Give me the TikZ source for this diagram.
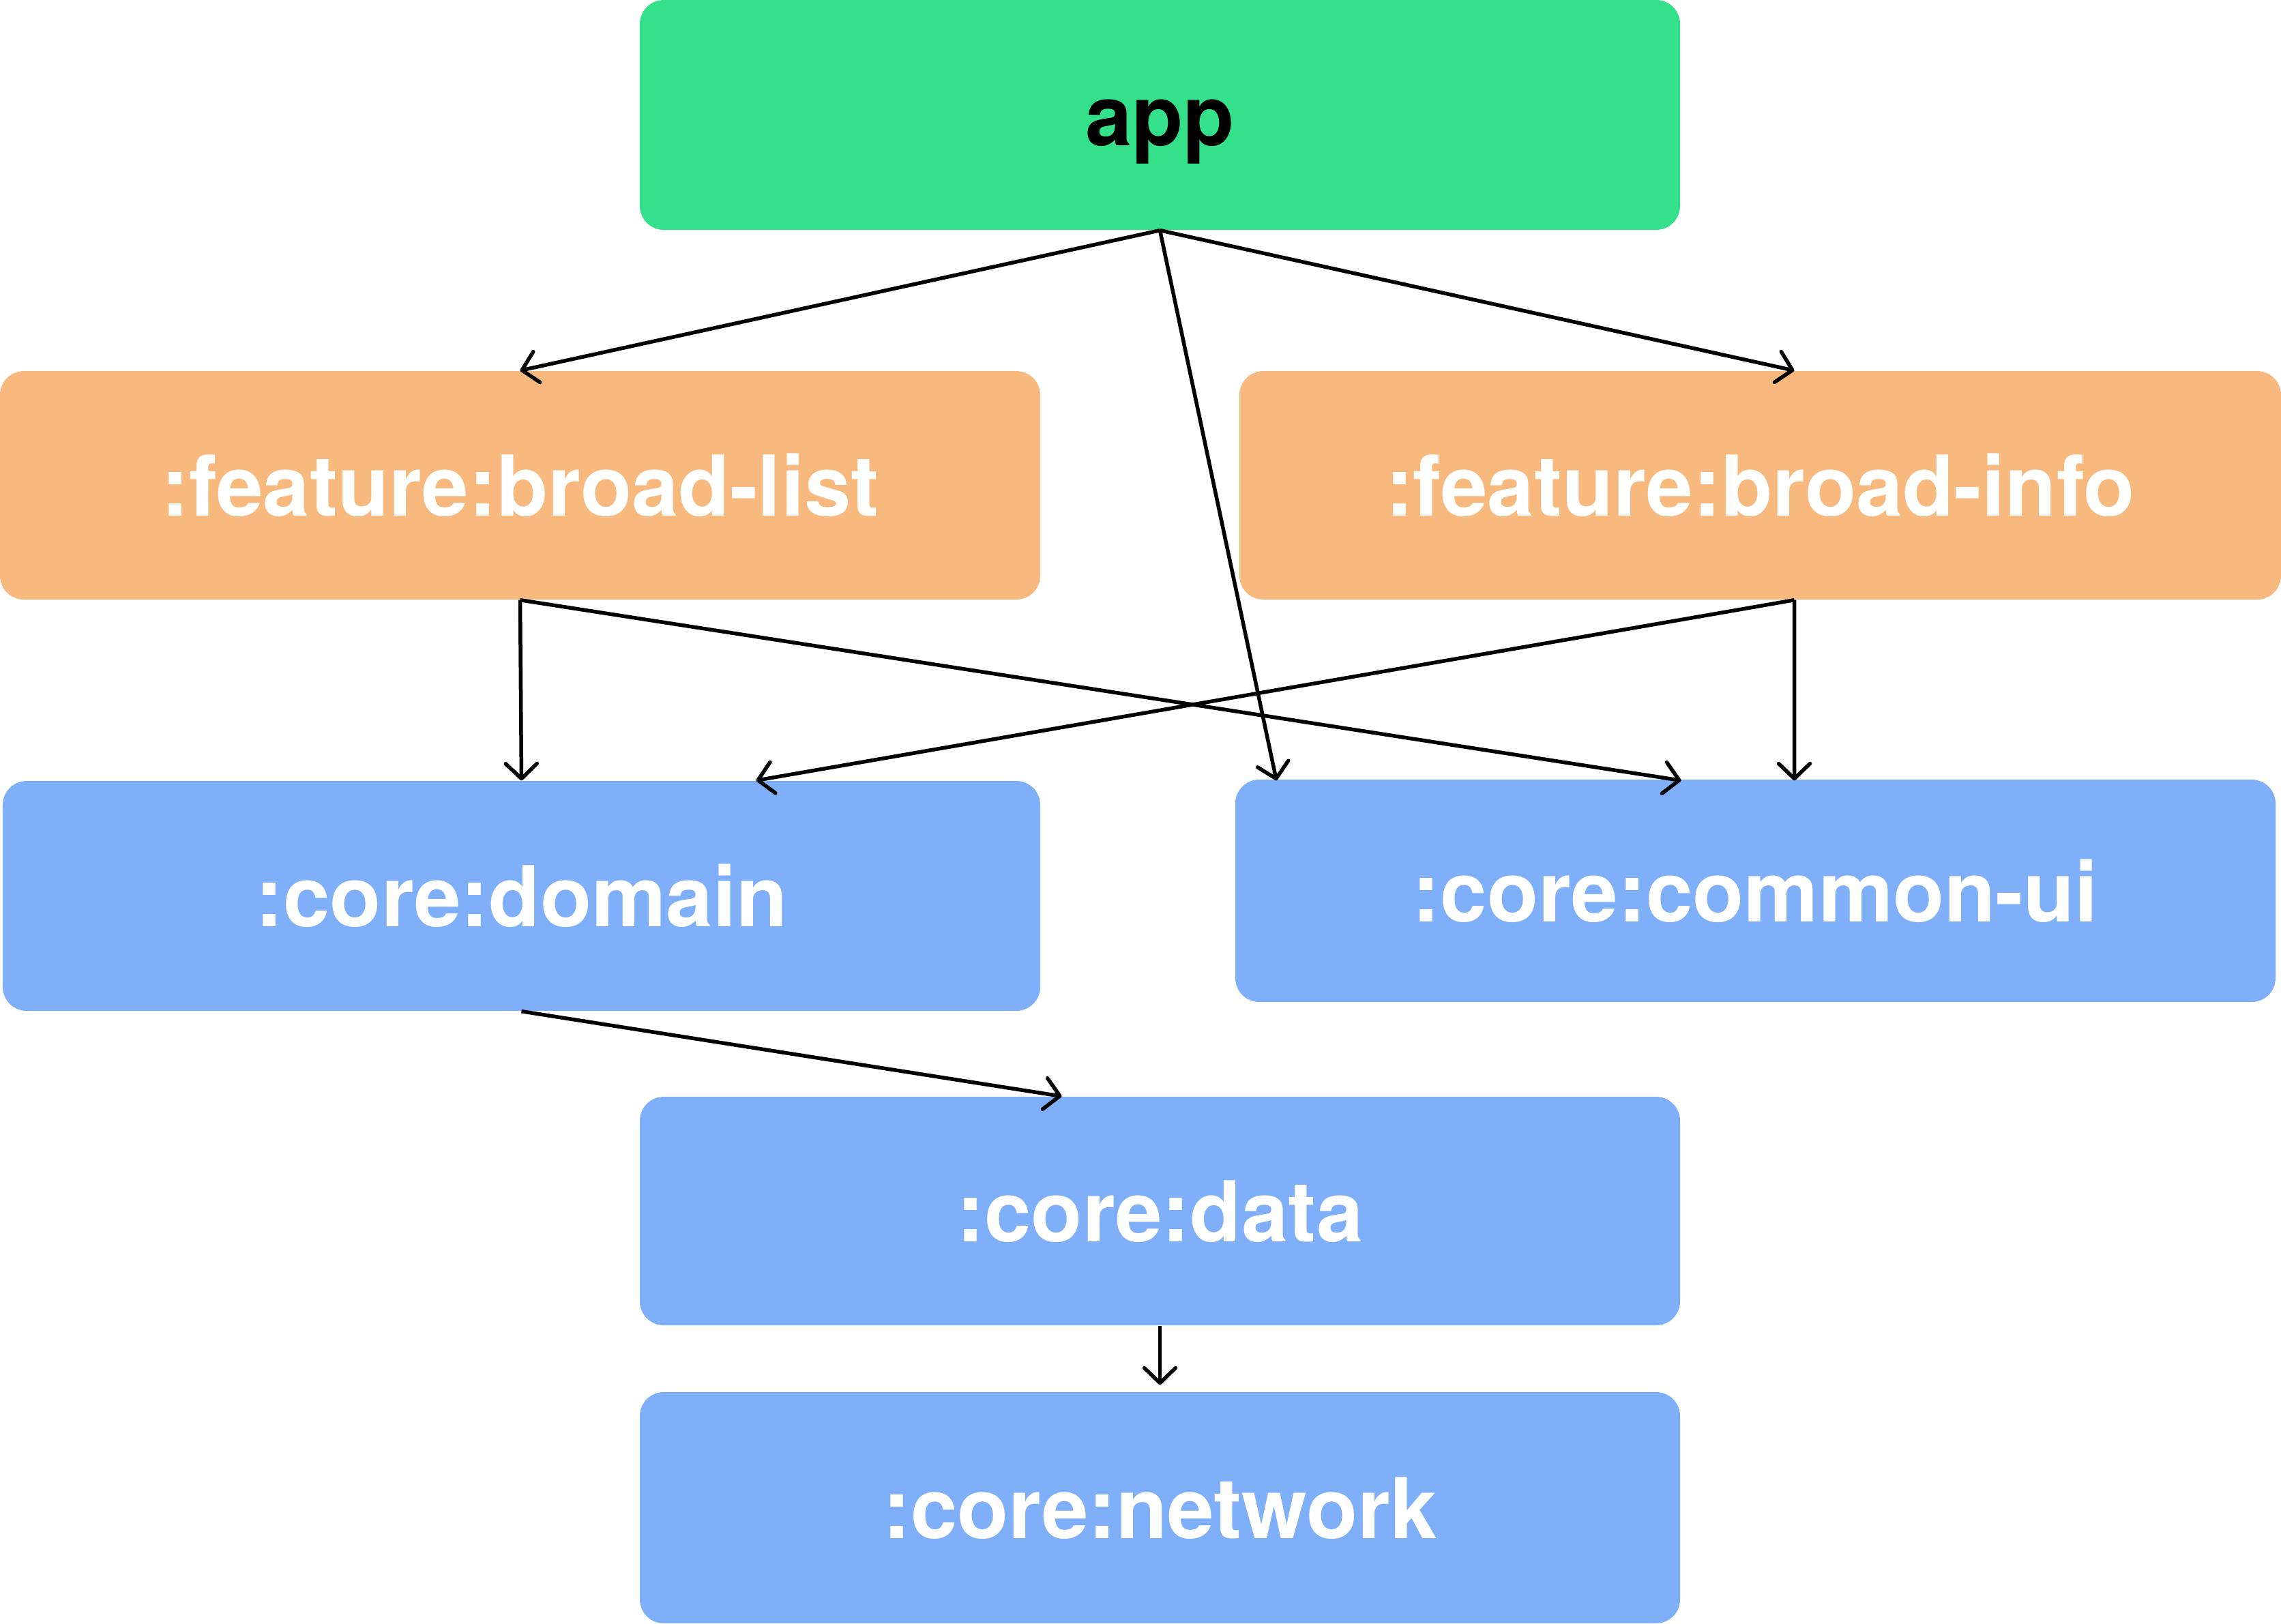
\documentclass[tikz,border=0pt]{standalone}
\usepackage{fontspec}
\setmainfont{TeX Gyre Heros}
\usetikzlibrary{arrows.meta,calc}
\definecolor{appgreen}{HTML}{34E089}
\definecolor{featorange}{HTML}{F8B97F}
\definecolor{coreblue}{HTML}{7EAFF8}
\tikzset{
  box/.style={rectangle, rounded corners=0.35cm, draw=none, minimum width=15.25cm,
    text height=0.9cm, text depth=0pt, inner sep=0pt,
    font=\fontsize{35}{40}\selectfont\bfseries},
  appbox/.style={box, fill=appgreen, text=black},
  featbox/.style={box, fill=featorange, text=white},
  corebox/.style={box, fill=coreblue, text=white},
  conn/.style={line width=0.055cm, -{Straight Barb[length=0.22cm,width=0.46cm,round]}},
}
\begin{document}
\begin{tikzpicture}
\useasboundingbox (0,0) rectangle (33.44,-23.80);
\node[appbox, minimum height=3.37cm] (app) at (17.005,-1.685) {app};
\node[featbox, minimum height=3.35cm] (blist) at (7.625,-7.115) {:feature:broad-list};
\node[featbox, minimum height=3.35cm, minimum width=15.27cm] (binfo) at (25.805,-7.115) {:feature:broad-info};
\node[corebox, minimum height=3.37cm, minimum width=15.21cm] (domain) at (7.645,-13.135) {:core:domain};
\node[corebox, minimum height=3.26cm] (common) at (25.735,-13.06) {:core:common-ui};
\node[corebox, minimum height=3.35cm] (data) at (17.005,-17.755) {:core:data};
\node[corebox, minimum height=3.39cm] (network) at (17.005,-22.105) {:core:network};

\draw[conn] (app.south) -- (blist.north);
\draw[conn] (app.south) -- ($(binfo.north)+(0.5,0)$);
\draw[conn] (app.south) -- ($(common.north west)+(0.61,-0.02)$);
\draw[conn] (blist.south) -- (domain.north);
\draw[conn] (blist.south) -- ($(common.north)+(-1.09,-0.02)$);
\draw[conn] ($(binfo.south)+(0.5,0)$) -- ($(domain.north)+(3.44,0)$);
\draw[conn] ($(binfo.south)+(0.5,0)$) -- ($(common.north)+(0.57,-0.02)$);
\draw[conn] (domain.south) -- ($(data.north)+(-1.44,0)$);
\draw[conn] (data.south) -- ($(network.north)+(0,0.1)$);
\end{tikzpicture}
\end{document}
